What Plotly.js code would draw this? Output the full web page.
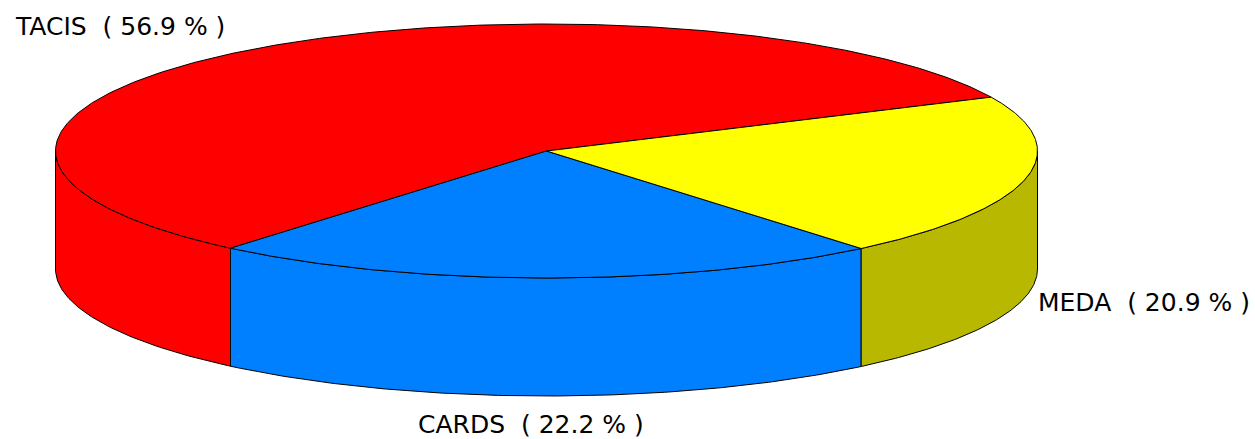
<!DOCTYPE html>
<html>
<head>
<meta charset="utf-8">
<script src="https://cdn.plot.ly/plotly-3.0.1.min.js"></script>
<style>html,body{margin:0;padding:0;background:#fff;}#chart{width:1255px;height:439px;}</style>
</head>
<body>
<div id="chart"></div>
<script>
// ---- data ----
const labels = ['TACIS', 'CARDS', 'MEDA'];
const values = [56.9, 22.2, 20.9];
const topColors = ['#FF0000', '#0080FF', '#FFFF00'];
const sideColors = ['#FF0000', '#0080FF', '#B8B800'];

// ---- geometry (layout) ----
const CX = 546.5, CY = 151, RX = 491, RY = 127, DEPTH = 118, START = 25.1;
const rad = d => d * Math.PI / 180;
const px = t => CX + RX * Math.cos(rad(t));
const py = (t, off) => CY - RY * Math.sin(rad(t)) + (off || 0);

function arc(a, b, off) {
  const xs = [], ys = [];
  const n = Math.max(2, Math.ceil(Math.abs(b - a) / 0.5));
  for (let i = 0; i <= n; i++) {
    const t = a + (b - a) * i / n;
    xs.push(px(t)); ys.push(py(t, off));
  }
  return [xs, ys];
}

const total = values.reduce((s, v) => s + v, 0);
const slices = [];
let acc = START;
values.forEach((v, i) => {
  const span = v / total * 360;
  slices.push({ a: acc, b: acc + span, i });
  acc += span;
});

const traces = [];
// side faces (visible front half: 180..360 and 540..720)
slices.forEach(s => {
  [[180, 360], [540, 720]].forEach(([lo, hi]) => {
    const a = Math.max(s.a, lo), b = Math.min(s.b, hi);
    if (b > a) {
      const [tx, ty] = arc(a, b, 0);
      const [bx, by] = arc(b, a, DEPTH);
      traces.push({
        type: 'scatter', mode: 'lines',
        x: tx.concat(bx, [tx[0]]), y: ty.concat(by, [ty[0]]),
        fill: 'toself', fillcolor: sideColors[s.i],
        line: { color: '#000', width: 1 }, hoverinfo: 'skip'
      });
    }
  });
});
// top faces
slices.forEach(s => {
  const [ax, ay] = arc(s.a, s.b, 0);
  traces.push({
    type: 'scatter', mode: 'lines',
    x: [CX].concat(ax, [CX]), y: [CY].concat(ay, [CY]),
    fill: 'toself', fillcolor: topColors[s.i],
    line: { color: '#000', width: 1 }, hoverinfo: 'skip'
  });
});

// label anchors (layout)
const labelPos = [[14, 26], [417, 424], [1037, 302]];
const annotations = labels.map((l, i) => ({
  x: labelPos[i][0], y: labelPos[i][1], xref: 'x', yref: 'y',
  xanchor: 'left', yanchor: 'middle', showarrow: false, borderpad: 0,
  text: l + '\u00a0\u00a0( ' + values[i].toFixed(1) + ' % )',
  font: { family: 'DejaVu Sans, Verdana, sans-serif', size: 25, color: '#000' }
}));

const layout = {
  width: 1255, height: 439,
  margin: { l: 0, r: 0, t: 0, b: 0 },
  paper_bgcolor: '#fff', plot_bgcolor: '#fff',
  showlegend: false, hovermode: false,
  xaxis: { range: [0, 1255], visible: false, fixedrange: true },
  yaxis: { range: [439, 0], visible: false, fixedrange: true },
  annotations
};
Plotly.newPlot('chart', traces, layout, { displayModeBar: false, staticPlot: true });
</script>
</body>
</html>
